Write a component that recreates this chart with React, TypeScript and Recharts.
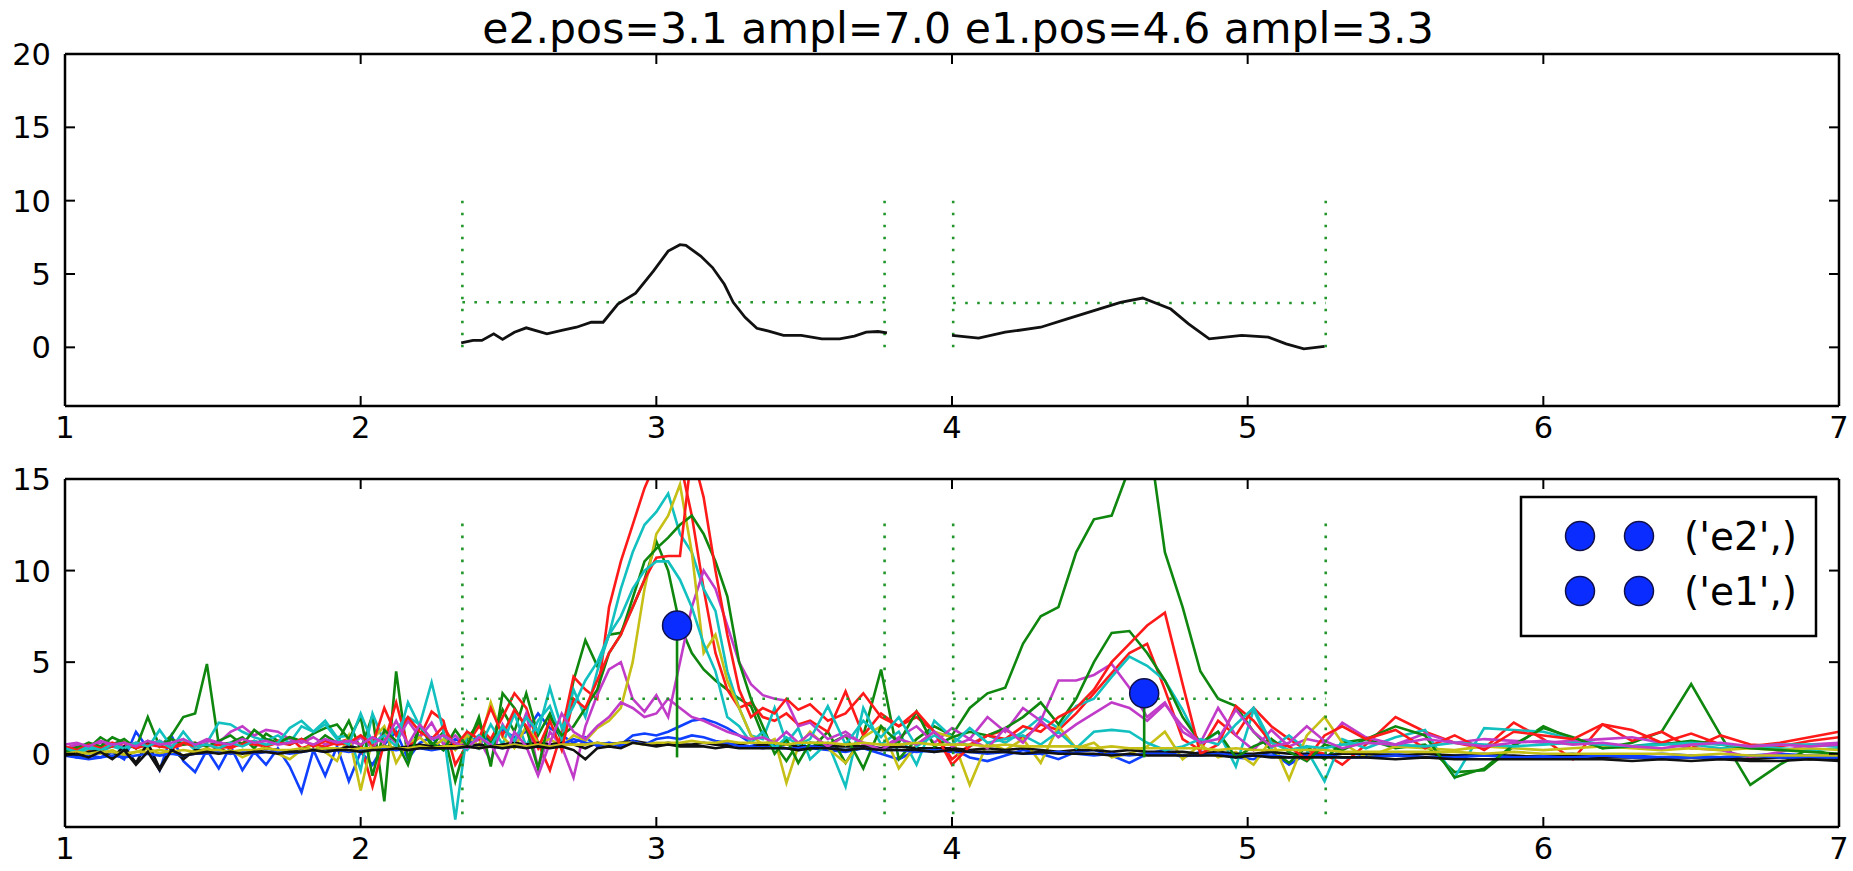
import React from "react";
import { ComposedChart, Line, XAxis, YAxis } from "recharts";

const W = 1853;
const H = 871;
const FONT = "DejaVu Sans, sans-serif";

const BLUE = "#1040ff";
const GREEN = "#0f870f";
const RED = "#ff1a1a";
const CYAN = "#13c0c0";
const MAGENTA = "#c03cc8";
const YELLOW = "#c6bf16";
const BLACK = "#111111";
const DOT_GREEN = "#22962a";

const TITLE = "e2.pos=3.1 ampl=7.0 e1.pos=4.6 ampl=3.3";
const X_TICKS = [1, 2, 3, 4, 5, 6, 7];
const TOP_Y_TICKS = [0, 5, 10, 15, 20];
const BOTTOM_Y_TICKS = [0, 5, 10, 15];
const LEGEND_LABELS = ["('e2',)", "('e1',)"];

// top panel: mean curve inside each window
const seg1X = [2.34, 2.38, 2.41, 2.45, 2.48, 2.52, 2.56, 2.63, 2.68, 2.73, 2.78, 2.82, 2.87, 2.93, 2.99, 3.04, 3.08, 3.1, 3.15, 3.19, 3.23, 3.26, 3.3, 3.34, 3.38, 3.43, 3.49, 3.56, 3.62, 3.67, 3.71, 3.75, 3.78];
const seg1Y = [0.31, 0.47, 0.47, 0.92, 0.54, 1.03, 1.33, 0.92, 1.15, 1.37, 1.71, 1.71, 2.95, 3.7, 5.2, 6.56, 7.0, 6.95, 6.22, 5.44, 4.3, 3.07, 2.05, 1.3, 1.1, 0.81, 0.81, 0.58, 0.58, 0.76, 1.03, 1.08, 0.99];
const seg2X = [4.0, 4.09, 4.18, 4.3, 4.39, 4.48, 4.57, 4.645, 4.74, 4.8, 4.87, 4.98, 5.07, 5.13, 5.19, 5.26];
const seg2Y = [0.81, 0.63, 1.03, 1.37, 1.94, 2.5, 3.07, 3.36, 2.61, 1.6, 0.58, 0.81, 0.7, 0.24, -0.1, 0.06];

// search windows (green dotted)
const winX0 = [2.344, 4.004];
const winX1 = [3.772, 5.264];
const winLevelTop = [3.07, 3.02];
const winLevelBottom = [3.0, 3.0];
const TOP_SPAN = [0, 10];
const BOTTOM_SPAN = [-3.3, 13];

// fitted peaks
const peakPos = [3.07, 4.65];
const peakAmpl = [7.0, 3.3];
const STEM_BASE = -0.2;

// bottom panel: individual spectra
const gridX = [
  1.0, 1.04, 1.08, 1.12, 1.16, 1.2, 1.24, 1.28, 1.32, 1.36, 1.4, 1.44, 1.48, 1.52, 1.56, 1.6, 1.64, 1.68, 1.72, 1.76, 1.8, 1.84, 1.88, 1.92, 1.96, 2.0, 2.04, 2.08, 2.12, 2.16, 2.2, 2.24, 2.28,
  2.32, 2.36, 2.4, 2.44, 2.48, 2.52, 2.56, 2.6, 2.64, 2.68, 2.72, 2.76, 2.8, 2.84, 2.88, 2.92, 2.96, 3.0, 3.04, 3.08, 3.12, 3.16, 3.2, 3.24, 3.28, 3.32, 3.36, 3.4, 3.44, 3.48, 3.52,
  3.58, 3.64, 3.7, 3.76, 3.82, 3.88, 3.94, 4.0, 4.06, 4.12, 4.18, 4.24, 4.3, 4.36, 4.42, 4.48, 4.54, 4.6, 4.66, 4.72, 4.78, 4.84, 4.9, 4.96, 5.02, 5.08, 5.14, 5.2, 5.26, 5.32,
  5.4, 5.5, 5.6, 5.7, 5.8, 5.9, 6.0, 6.1, 6.2, 6.3, 6.4, 6.5, 6.6, 6.7, 6.8, 6.9, 7.0,
];

const b1 = [
  0.0, -0.2, -0.3, -0.2, 0.1, -0.3, 1.2, 0.3, -0.9, 1.0, -0.4, -1.0, 0.2, -0.8, 0.4, -0.9, 0.1, -0.6, 0.3, -0.7, -2.1, 0.2, -1.2, 0.4, -1.5, 0.1, -0.6, 0.5, 1.2, -0.3, 0.6, 0.9, 0.2,
  0.8, 0.5, 1.0, 0.7, 1.3, 0.9, 1.2, 2.2, 1.4, 1.0, 0.6, 0.9, 0.4, 0.6, 0.5, 1.0, 1.1, 1.0, 1.2, 1.5, 1.8, 1.9, 1.7, 1.4, 1.0, 0.6, 0.4, 0.3, 0.3, 0.2, 0.3,
  0.2, 0.1, 0.3, 0.0, -0.3, 0.2, 0.1, 0.3, -0.2, -0.4, -0.1, 0.2, 0.0, -0.3, 0.1, 0.2, -0.1, -0.5, 0.0, 0.2, -0.2, 0.1, 0.0, -0.2, -0.3, 0.1, -0.6, 0.0, -0.2, 0.1,
  -0.1, 0.0, -0.2, -0.1, 0.0, -0.2, -0.1, 0.0, -0.2, -0.1, 0.0, -0.1, -0.2, -0.1, 0.0, -0.1, -0.1,
];
const g1 = [
  0.2, 0.4, 0.3, 0.9, 0.5, 0.8, 0.3, 2.0, 0.4, 1.0, 2.0, 2.2, 4.9, 0.5, 0.6, 0.9, 0.3, 1.1, 0.7, 0.5, 0.8, 0.4, 1.0, 0.6, 1.8, 0.2, 2.1, -2.6, 4.5, -0.3, 1.6, 0.4, 1.2,
  -1.5, 0.8, 1.7, 0.6, 2.4, 1.2, 3.3, 1.0, 2.2, 0.7, 4.0, 6.2, 4.8, 6.5, 6.6, 8.0, 9.5, 11.6, 10.0, 7.0, 5.5, 4.6, 4.0, 3.5, 3.0, 2.6, 1.0, 0.5, -0.4, 0.6, 0.2,
  1.2, -0.5, 1.0, 4.6, -0.3, 0.8, 1.5, 1.0, 2.5, 3.3, 3.6, 6.0, 7.5, 8.0, 11.0, 12.8, 13.0, 15.6, 18.0, 11.0, 8.0, 4.5, 3.0, 2.6, 1.2, 0.2, -0.5, 0.4, -0.3, 0.6,
  0.8, 0.3, 0.5, -1.0, -0.9, 0.4, 1.5, 0.8, 0.3, 0.6, 1.2, 3.8, 1.0, -1.7, -0.6, 0.3, -0.2,
];
const r1 = [
  0.3, 0.5, 0.2, 0.4, 0.6, 0.3, 0.5, 0.4, 0.7, 0.3, 0.5, 0.6, 0.4, 0.5, 0.3, 0.6, 0.5, 0.4, 0.7, 0.9, 0.3, 0.5, 0.4, 0.6, 0.8, 0.5, -1.8, 0.6, 2.8, 0.4, 0.9, 2.3, 1.8,
  -0.6, 0.5, 1.5, 0.8, 2.0, 3.3, 2.5, 0.6, -0.9, 1.2, 4.2, 3.5, 3.0, 8.0, 10.5, 12.5, 14.5, 16.0, 17.0, 16.0, 13.0, 9.0, 5.5, 3.5, 2.5, 2.8, 2.0, 1.8, 2.2, 1.6, 1.8,
  1.2, 3.4, 1.0, 2.2, 1.5, 2.0, 1.2, -0.3, 0.5, 1.0, 1.3, 0.8, 1.6, 1.3, 2.2, 3.3, 4.4, 5.5, 6.0, 3.5, 0.8, 0.2, 1.8, 1.0, 2.5, 1.5, 0.8, 0.2, 0.0, -0.6,
  0.5, 2.0, 1.2, 0.6, 0.3, 1.7, 0.8, -0.3, 1.6, 0.7, 1.2, 0.3, 1.0, 0.5, 0.4, 0.7, 0.9,
];
const c1 = [
  0.2, 0.0, 0.3, 0.1, 0.4, 0.2, 0.5, 0.3, 1.3, 0.4, 0.8, 0.2, 0.6, 1.7, 1.6, 1.2, 0.9, 0.7, 1.0, 0.6, 1.5, 1.2, 1.8, 0.9, 1.0, -0.9, 2.2, 0.6, 1.4, 2.0, 1.6, 3.9, 1.2,
  -3.6, 1.2, 0.3, 1.6, 0.5, 2.2, 0.4, 1.8, 2.6, 0.8, 3.5, 2.0, 4.5, 6.5, 9.0, 11.0, 12.5, 13.2, 14.2, 12.0, 11.0, 9.0, 7.8, 4.5, 2.5, 1.0, 0.8, 2.5, 0.6, 1.4, -0.3,
  0.6, -1.8, 2.5, 0.5, 1.2, -0.6, 1.8, 0.9, 0.4, 1.0, 0.6, 1.2, 2.0, 1.4, 2.6, 3.0, 4.2, 5.3, 4.8, 4.0, 2.4, 0.5, 1.2, -0.7, 2.4, 0.3, 1.0, 0.2, -1.5, 0.8,
  0.3, 0.9, 1.3, -1.3, 1.4, 1.3, 1.2, 0.8, 0.5, 0.4, 0.6, 0.5, 0.3, 0.4, 0.3, 0.2, 0.3,
];
const m1 = [
  0.3, 0.5, 0.4, 0.6, 0.5, 0.4, 0.6, 0.5, 0.7, 0.4, 0.6, 0.5, 0.8, 0.6, 1.2, 1.5, 1.0, 1.3, 1.2, 0.8, 0.6, 0.9, 0.5, 0.7, 0.4, 0.9, 0.3, 1.2, 0.6, 1.8, 0.9, 1.7, 0.5,
  1.0, 0.3, 0.8, -0.4, 1.6, 0.5, 2.2, -0.8, 1.2, 0.4, -1.3, 1.5, 3.2, 4.6, 5.0, 3.0, 2.3, 3.2, 2.0, 5.0, 8.0, 10.0, 9.0, 7.0, 5.0, 3.8, 3.2, 3.0, 2.9, 1.5, 1.7,
  0.8, 1.2, 0.5, 0.3, 0.9, 1.5, 0.6, 1.4, 0.8, 2.0, 1.2, 2.5, 1.8, 4.0, 4.0, 4.3, 4.9, 3.6, 2.0, 2.8, 1.2, 0.6, 2.5, 1.0, 0.2, 1.3, 0.4, 0.8, 0.6, 1.7,
  0.9, 0.5, 1.1, 0.6, 0.8, 0.7, 0.6, 0.7, 0.8, 0.9, 0.6, 0.3, 0.2, -0.2, 0.1, 0.5, 0.6,
];
const y1 = [
  0.0, -0.1, 0.1, 0.0, 0.2, -0.1, 0.1, 0.3, 0.0, 0.2, -0.1, 0.1, 0.3, 0.0, 0.2, -0.2, 0.1, 0.4, 0.0, -0.3, 0.2, 0.5, 0.1, -0.4, 1.0, -2.0, 0.8, 1.5, -0.5, 0.6, 0.9, 0.3, 0.8,
  0.2, 1.0, 0.4, 2.8, 0.9, 0.3, 1.5, 0.6, 0.8, 0.4, 1.0, 0.7, 1.4, 1.8, 2.5, 5.0, 9.0, 12.0, 13.0, 14.7, 11.0, 5.5, 6.5, 4.0, 2.5, 1.0, 0.5, 0.8, -1.6, 0.4, 1.2,
  0.3, -0.5, 0.9, 1.5, -0.8, 0.5, 1.2, 0.9, -1.7, 0.6, 0.2, 0.8, -0.5, 1.5, 0.3, 0.6, -0.2, 0.0, 0.4, 1.2, -0.3, 0.5, -0.2, 0.1, -0.6, 0.8, -1.4, 1.0, 2.0, 0.6,
  -0.2, 0.4, 0.3, 0.2, 0.4, 0.3, 0.2, 0.3, 0.4, 0.3, 0.2, 0.3, 0.2, 0.3, 0.2, 0.3, 0.2,
];
const k1 = [
  0.0, -0.1, 0.1, 0.2, -0.2, 0.4, -0.5, 0.6, -0.8, 0.3, -0.3, 0.2, 0.1, 0.3, 0.0, 0.2, 0.1, 0.3, 0.2, 0.1, 0.3, 0.2, 0.3, 0.2, 0.4, 0.3, 0.3, 0.4, 0.3, 0.4, 0.5, 0.4, 0.4,
  0.5, 0.4, 0.5, 0.4, 0.5, 0.6, 0.5, 0.6, 0.5, 0.6, 0.5, 0.3, 0.6, 0.5, 0.6, 0.7, 0.6, 0.5, 0.6, 0.5, 0.5, 0.6, 0.5, 0.5, 0.5, 0.4, 0.5, 0.4, 0.5, 0.4, 0.4,
  0.4, 0.4, 0.4, 0.3, 0.4, 0.3, 0.3, 0.3, 0.2, 0.3, 0.2, 0.3, 0.2, 0.1, 0.2, 0.2, 0.1, 0.2, 0.1, 0.1, 0.1, 0.0, 0.1, 0.0, 0.0, 0.1, 0.0, 0.0, -0.1, 0.0,
  0.0, -0.1, 0.0, -0.1, -0.1, -0.1, -0.2, -0.1, -0.2, -0.2, -0.2, -0.2, -0.2, -0.3, -0.2, -0.3, -0.3,
];
const b2 = [
  -0.1, -0.2, -0.1, -0.2, -0.1, -0.2, -0.1, 0.0, -0.1, 0.0, -0.1, 0.0, 0.0, 0.1, 0.0, 0.1, 0.0, 0.1, 0.1, 0.0, 0.1, 0.2, 0.1, 0.2, 0.1, 0.2, 0.2, 0.3, 0.2, 0.3, 0.3, 0.2, 0.3,
  0.3, 0.4, 0.3, 0.4, 0.3, 0.5, 0.4, 0.5, 0.4, 0.5, 0.8, 0.6, 0.5, 0.6, 0.4, 0.7, 0.5, 0.8, 0.9, 0.8, 1.0, 0.9, 0.7, 0.6, 0.4, 0.4, 0.3, 0.4, 0.3, 0.3, 0.4,
  0.3, 0.2, 0.3, 0.2, 0.2, 0.1, 0.2, 0.1, 0.1, 0.0, 0.1, 0.0, 0.0, 0.1, 0.0, -0.1, 0.0, -0.1, 0.0, 0.0, -0.1, -0.1, 0.0, -0.1, -0.1, -0.1, -0.2, -0.1, -0.1, -0.2,
  -0.2, -0.1, -0.2, -0.2, -0.1, -0.2, -0.2, -0.2, -0.1, -0.2, -0.2, -0.2, -0.2, -0.1, -0.2, -0.2, -0.2,
];
const g2 = [
  0.1, 0.3, 0.6, 0.4, 0.9, 0.6, 0.3, 0.7, 0.4, 0.8, 0.5, 0.6, 0.4, 0.7, 1.0, 0.5, 1.3, 0.8, 0.6, 0.9, 0.7, 1.1, 1.4, 1.6, 0.8, 2.0, -1.2, 1.3, 0.7, -0.6, 1.5, 0.6, 0.2,
  1.3, 0.4, 2.0, -0.7, 3.3, 2.5, 1.4, -0.8, 2.0, 1.0, 1.5, 2.5, 3.5, 5.5, 6.5, 8.5, 10.5, 11.2, 11.8, 12.5, 13.0, 12.0, 10.5, 8.6, 5.0, 3.0, 1.5, 0.0, 0.8, -0.5, 0.6,
  0.5, 1.0, -0.8, 1.5, 0.6, 2.3, 0.4, 0.9, 1.2, 1.0, 1.4, 2.0, 2.8, 1.6, 3.0, 5.0, 6.6, 6.7, 5.5, 4.0, 2.0, 0.6, 1.2, -0.2, 0.4, 0.8, 0.1, -0.4, 0.5, 0.2,
  0.8, 1.5, 1.0, -1.3, -0.8, 0.5, 1.4, 0.9, 0.3, 0.4, 0.5, 0.7, 0.5, 0.3, 0.2, 0.1, 0.0,
];
const r2 = [
  0.4, 0.2, 0.5, 0.3, 0.4, 0.6, 0.3, 0.5, 0.4, 0.3, 0.6, 0.4, 0.5, 0.3, 0.4, 0.5, 0.7, 0.4, 0.6, 0.5, 0.8, 0.4, 0.7, 0.5, 0.6, 1.0, 0.5, 2.5, 1.0, 2.0, 1.2, 0.8, 1.5,
  0.4, 1.2, 0.8, 2.5, 1.0, 2.4, 1.5, 0.3, 1.8, 0.2, 3.0, 2.5, 4.0, 5.5, 6.5, 8.0, 9.5, 10.7, 10.8, 10.8, 16.5, 14.0, 10.0, 6.5, 3.5, 2.0, 2.5, 2.2, 3.0, 2.4, 2.7,
  1.8, 2.2, 3.3, 2.0, 1.5, 2.3, 1.2, -0.6, 0.4, 1.0, 0.8, 1.5, 1.2, 2.0, 2.5, 3.5, 5.0, 6.0, 7.0, 7.7, 3.8, 0.0, 0.5, 2.6, 1.8, 0.6, 0.4, -0.3, 1.0, 1.5,
  0.8, 1.3, 0.3, 1.0, 0.2, 1.2, 1.0, 0.8, 1.6, 1.3, 0.6, 1.1, 0.5, 0.4, 0.6, 0.9, 1.2,
];
const c2 = [
  0.3, 0.1, 0.4, 0.2, 0.5, 0.3, 0.6, 0.4, 0.7, 0.3, 1.2, 0.4, 0.5, 0.3, 0.6, 0.4, 0.7, 0.5, 0.6, 1.4, 1.8, 1.2, 1.6, 0.8, 0.5, 2.2, 0.6, 1.0, 0.4, 2.8, 1.5, 0.8, 1.0,
  0.6, 0.2, 1.0, 0.4, 1.5, 0.7, 2.0, 1.2, 3.6, 1.4, 2.6, 4.0, 5.0, 6.5, 7.5, 9.0, 10.0, 10.5, 10.5, 9.5, 8.0, 6.0, 4.5, 2.0, 1.5, 0.6, 1.2, 0.3, 0.9, 0.5, 0.8,
  2.6, 0.5, 1.8, 0.9, 2.0, 0.4, 1.0, 0.5, 1.4, 0.6, 0.8, 1.0, 0.5, 1.2, 0.3, 1.2, 1.3, 1.2, 0.6, 0.2, 0.4, 0.8, 0.5, 1.6, 2.5, 0.6, 0.2, 0.4, 0.3, 0.5,
  0.6, 0.5, 0.4, 0.6, 0.5, 0.4, 0.5, 0.6, 0.5, 0.4, 0.5, 0.6, 0.5, 0.4, 0.5, 0.5, 0.4,
];
const m2 = [
  0.5, 0.6, 0.4, 0.7, 0.5, 0.6, 0.4, 0.7, 0.5, 0.6, 0.8, 0.5, 0.7, 0.6, 0.5, 0.8, 0.6, 0.7, 0.5, 0.6, 0.7, 0.5, 0.8, 0.6, 0.7, 0.5, 0.9, 0.6, 1.8, 0.5, 1.6, 0.8, 1.0,
  0.6, 0.3, 0.9, 0.5, -0.6, 1.2, 0.4, -1.2, 0.6, 2.2, 1.2, 0.8, 1.5, 2.0, 2.8, 2.5, 2.0, 2.2, 3.0, 2.5, 2.0, 1.8, 1.5, 1.2, 1.0, 0.8, 0.9, 0.6, 1.2, 0.6, 1.1,
  0.4, 1.0, 0.6, 0.2, 0.8, 0.5, 1.2, 0.4, 0.8, 0.3, 1.4, 0.6, 1.8, 0.9, 1.6, 2.2, 2.8, 2.5, 1.8, 2.7, 1.5, 0.6, 0.8, 2.4, 1.2, 0.4, 0.6, 1.5, 0.7, 0.3,
  0.6, 0.5, 0.8, 0.6, 0.4, 0.6, 0.7, 0.5, 0.6, 0.4, 0.3, 0.5, 0.6, 0.4, 0.5, 0.4, 0.5,
];
const y2 = [
  0.0, 0.1, 0.0, 0.1, 0.1, 0.0, 0.1, 0.1, 0.2, 0.1, 0.2, 0.1, 0.2, 0.2, 0.1, 0.2, 0.2, 0.3, 0.2, 0.2, 0.3, 0.2, 0.3, 0.3, 0.2, 0.3, 0.3, 0.4, 0.3, 0.3, 0.4, 0.3, 0.4,
  0.4, 0.4, 0.3, 0.4, 0.4, 0.5, 0.4, 0.5, 0.4, 0.5, 0.5, 0.5, 0.6, 0.5, 0.6, 0.6, 0.5, 0.6, 0.6, 0.6, 0.7, 0.6, 0.6, 0.7, 0.6, 0.6, 0.6, 0.6, 0.5, 0.6, 0.6,
  0.6, 0.5, 0.6, 0.5, 0.5, 0.6, 0.5, 0.5, 0.5, 0.4, 0.5, 0.4, 0.4, 0.4, 0.4, 0.3, 0.4, 0.3, 0.3, 0.3, 0.3, 0.3, 0.2, 0.3, 0.2, 0.2, 0.2, 0.2, 0.2, 0.1,
  0.1, 0.1, 0.1, 0.1, 0.0, 0.1, 0.0, 0.0, 0.0, 0.0, 0.0, -0.1, 0.0, -0.1, -0.1, -0.1, -0.1,
];
const k2 = [
  -0.1, 0.0, -0.2, 0.1, -0.3, 0.2, -0.6, 0.1, -0.9, 0.2, -0.1, 0.0, 0.1, 0.0, 0.1, 0.0, 0.1, 0.1, 0.0, 0.1, 0.1, 0.2, 0.1, 0.2, 0.2, 0.1, 0.2, 0.2, 0.3, 0.2, 0.3, 0.3, 0.3,
  0.3, 0.4, 0.3, 0.4, 0.3, 0.4, 0.3, 0.4, 0.3, 0.4, 0.2, -0.3, 0.3, 0.4, 0.3, 0.6, 0.5, 0.4, 0.5, 0.4, 0.4, 0.4, 0.3, 0.4, 0.3, 0.3, 0.3, 0.3, 0.3, 0.2, 0.3,
  0.3, 0.2, 0.3, 0.2, 0.2, 0.2, 0.1, 0.2, 0.1, 0.1, 0.1, 0.0, 0.1, 0.0, 0.0, 0.0, -0.1, 0.0, -0.1, -0.1, -0.1, -0.1, -0.1, -0.2, -0.1, -0.2, -0.2, -0.2, -0.2, -0.2,
  -0.2, -0.3, -0.2, -0.3, -0.3, -0.3, -0.3, -0.3, -0.3, -0.4, -0.3, -0.4, -0.3, -0.4, -0.4, -0.3, -0.4,
];

const SERIES: [string, number[], string][] = [
  ["b1", b1, BLUE],
  ["g1", g1, GREEN],
  ["r1", r1, RED],
  ["c1", c1, CYAN],
  ["m1", m1, MAGENTA],
  ["y1", y1, YELLOW],
  ["k1", k1, BLACK],
  ["b2", b2, BLUE],
  ["g2", g2, GREEN],
  ["r2", r2, RED],
  ["c2", c2, CYAN],
  ["m2", m2, MAGENTA],
  ["y2", y2, YELLOW],
  ["k2", k2, BLACK],
];

const table = gridX.map((x, i) => {
  const row: Record<string, number> = { x };
  SERIES.forEach(([key, vals]) => {
    row[key] = vals[i];
  });
  return row;
});

const pts = (xs: number[], ys: number[]) => xs.map((x, i) => ({ x, y: ys[i] }));

const TICK_LEN = 10;
const TICK_FONT = 30.5;
const AXIS = { stroke: "#000", strokeWidth: 2.5 };
const LW = 2.6;

const BottomTick = (p: any) => (
  <g>
    <line x1={p.x} x2={p.x} y1={p.y} y2={p.y - TICK_LEN} stroke="#000" strokeWidth={2} />
    <text x={p.x} y={p.y + 32} textAnchor="middle" fontSize={TICK_FONT} fontFamily={FONT} fill="#000">
      {p.payload.value}
    </text>
  </g>
);
const TopTick = (p: any) => (
  <line x1={p.x} x2={p.x} y1={p.y} y2={p.y + TICK_LEN} stroke="#000" strokeWidth={2} />
);
const LeftTick = (p: any) => (
  <g>
    <line x1={p.x} x2={p.x + TICK_LEN} y1={p.y} y2={p.y} stroke="#000" strokeWidth={2} />
    <text x={p.x - 14} y={p.y} dy="0.36em" textAnchor="end" fontSize={TICK_FONT} fontFamily={FONT} fill="#000">
      {p.payload.value}
    </text>
  </g>
);
const RightTick = (p: any) => (
  <line x1={p.x} x2={p.x - TICK_LEN} y1={p.y} y2={p.y} stroke="#000" strokeWidth={2} />
);

// four-sided matplotlib style frame with inward ticks
function axes(yDomain: [number, number], yTicks: number[]) {
  return [
    <XAxis key="xb" xAxisId={0} dataKey="x" type="number" domain={[1, 7]} ticks={X_TICKS} interval={0}
      allowDataOverflow height={40} tickSize={0} tickMargin={0} tickLine={false} axisLine={AXIS} tick={BottomTick} />,
    <XAxis key="xt" xAxisId="top" orientation="top" dataKey="x" type="number" domain={[1, 7]} ticks={X_TICKS} interval={0}
      allowDataOverflow height={1} tickSize={0} tickMargin={0} tickLine={false} axisLine={AXIS} tick={TopTick} />,
    <YAxis key="yl" yAxisId={0} type="number" domain={yDomain} ticks={yTicks} interval={0}
      allowDataOverflow width={65} tickSize={0} tickMargin={0} tickLine={false} axisLine={AXIS} tick={LeftTick} />,
    <YAxis key="yr" yAxisId="right" orientation="right" type="number" domain={yDomain} ticks={yTicks} interval={0}
      allowDataOverflow width={1} tickSize={0} tickMargin={0} tickLine={false} axisLine={AXIS} tick={RightTick} />,
    <Line key="anchor" xAxisId="top" yAxisId="right" data={pts([1, 7], [0, 0])} dataKey="y" stroke="none"
      dot={false} activeDot={false} isAnimationActive={false} />,
  ];
}

function windowLines(levels: number[], span: number[], prefix: string) {
  const out: React.ReactNode[] = [];
  winX0.forEach((x0, i) => {
    const x1 = winX1[i];
    const common = {
      dataKey: "y",
      stroke: DOT_GREEN,
      strokeWidth: 2.6,
      strokeDasharray: "2.6 9.4",
      dot: false,
      activeDot: false,
      isAnimationActive: false,
    };
    out.push(<Line key={`${prefix}a${i}`} {...common} data={pts([x0, x0], span)} />);
    out.push(<Line key={`${prefix}b${i}`} {...common} data={pts([x1, x1], span)} />);
    out.push(<Line key={`${prefix}h${i}`} {...common} data={pts([x0, x1], [levels[i], levels[i]])} />);
  });
  return out;
}

function TopPanel() {
  return (
    <ComposedChart width={W} height={H} margin={{ top: 53, right: 13, bottom: 425, left: 0 }}
      style={{ position: "absolute", left: 0, top: 0 }}>
      {axes([-4, 20], TOP_Y_TICKS)}
      {windowLines(winLevelTop, TOP_SPAN, "t")}
      <Line data={pts(seg1X, seg1Y)} dataKey="y" stroke={BLACK} strokeWidth={2.8} dot={false} activeDot={false} isAnimationActive={false} />
      <Line data={pts(seg2X, seg2Y)} dataKey="y" stroke={BLACK} strokeWidth={2.8} dot={false} activeDot={false} isAnimationActive={false} />
    </ComposedChart>
  );
}

function BottomPanel() {
  return (
    <ComposedChart width={W} height={H} data={table} margin={{ top: 478, right: 13, bottom: 4, left: 0 }}
      style={{ position: "absolute", left: 0, top: 0 }}>
      {axes([-4, 15], BOTTOM_Y_TICKS)}
      {SERIES.map(([key, , color]) => (
        <Line key={key} type="linear" dataKey={key} stroke={color} strokeWidth={LW} dot={false} activeDot={false} isAnimationActive={false} />
      ))}
      {windowLines(winLevelBottom, BOTTOM_SPAN, "b")}
      {peakPos.map((p, i) => (
        <Line key={`stem${i}`} data={pts([p, p], [peakAmpl[i], STEM_BASE])} dataKey="y" stroke={GREEN} strokeWidth={LW}
          dot={false} activeDot={false} isAnimationActive={false} />
      ))}
      <Line data={pts(peakPos, peakAmpl)} dataKey="y" stroke="none" isAnimationActive={false} activeDot={false}
        dot={{ r: 14.5, fill: "#0a2cff", stroke: "#10104a", strokeWidth: 1.5 }} />
    </ComposedChart>
  );
}

function Overlay() {
  const lx = 1521;
  const ly = 497;
  return (
    <svg width={W} height={H} style={{ position: "absolute", left: 0, top: 0 }}>
      <text x={958} y={43} textAnchor="middle" fontSize={42.6} fontFamily={FONT} fill="#000">
        {TITLE}
      </text>
      <rect x={lx} y={ly} width={295} height={139} fill="#fff" stroke="#000" strokeWidth={2.5} />
      {LEGEND_LABELS.map((label, i) => {
        const cy = ly + 39 + i * 55;
        return (
          <g key={label}>
            <circle cx={lx + 59} cy={cy} r={14.5} fill="#0a2cff" stroke="#10104a" strokeWidth={1.5} />
            <circle cx={lx + 118} cy={cy} r={14.5} fill="#0a2cff" stroke="#10104a" strokeWidth={1.5} />
            <text x={lx + 163} y={cy} dy="0.36em" fontSize={39} fontFamily={FONT} fill="#000">
              {label}
            </text>
          </g>
        );
      })}
    </svg>
  );
}

export default function App() {
  return (
    <div style={{ position: "absolute", left: 0, top: 0, width: W, height: H, background: "#fff", overflow: "hidden" }}>
      <TopPanel />
      <BottomPanel />
      <Overlay />
    </div>
  );
}
